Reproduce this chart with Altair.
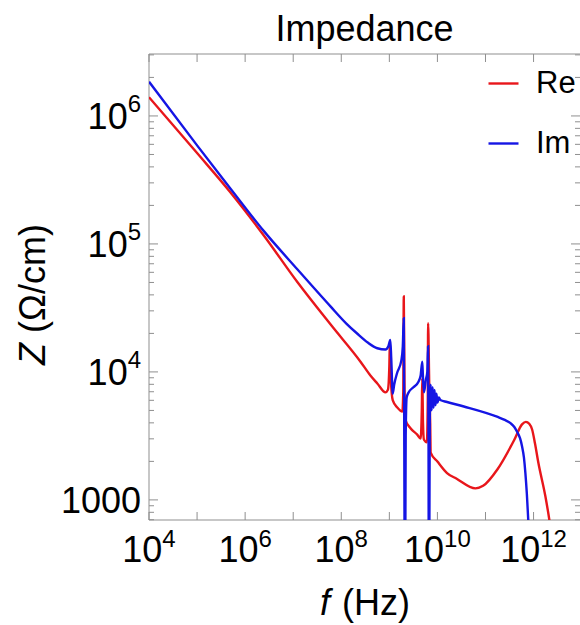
import altair as alt
import pandas as pd

# ---- data (log10 of frequency in Hz, log10 of |Z| in Ohm/cm)
re_logf = [4.00, 5.00, 5.70, 6.40, 7.09, 7.80, 8.40, 8.61, 8.75, 8.92, 8.97, 9.00, 9.01, 9.03,
           9.07, 9.17, 9.27, 9.29, 9.30, 9.315, 9.33, 9.44, 9.58, 9.65, 9.675, 9.685, 9.70,
           9.72, 9.78, 9.80, 9.806, 9.83, 9.85, 9.86, 10.00, 10.20, 10.40, 10.79, 10.95,
           11.25, 11.60, 11.76, 11.84, 11.91, 11.97, 12.03, 12.10, 12.245, 12.33, 12.40]
re_logz = [6.146, 5.71, 5.40, 5.06, 4.70, 4.36, 4.08, 3.97, 3.91, 3.84, 3.86, 4.05, 4.22, 3.95,
           3.78, 3.72, 3.69, 3.85, 4.59, 3.90, 3.63, 3.56, 3.51, 3.48, 3.70, 3.95, 3.60,
           3.47, 3.45, 3.80, 4.38, 3.90, 3.60, 3.37, 3.30, 3.21, 3.165, 3.09, 3.11,
           3.24, 3.47, 3.59, 3.61, 3.595, 3.55, 3.44, 3.29, 3.03, 2.84, 2.65]

im_logf = [4.00, 5.00, 5.70, 6.39, 7.09, 7.78, 8.10, 8.33, 8.55, 8.75, 8.92, 8.98, 9.02, 9.04,
           9.07, 9.10, 9.16, 9.25, 9.28, 9.30, 9.31, 9.32, 9.33, 9.34, 9.36, 9.40, 9.50, 9.60,
           9.65, 9.685, 9.70, 9.72, 9.76, 9.79, 9.805, 9.815, 9.82, 9.83, 9.84, 9.86, 9.88,
           9.90, 9.92, 9.94, 9.96, 9.98, 10.00, 10.03, 10.06, 10.20, 10.55, 11.24, 11.40,
           11.52, 11.60, 11.66, 11.72, 11.76, 11.80, 11.83, 11.86, 11.89, 11.93]
im_logz = [6.268, 5.77, 5.43, 5.10, 4.80, 4.51, 4.38, 4.30, 4.23, 4.185, 4.175, 4.20, 4.25, 4.10,
           3.83, 3.90, 3.99, 4.09, 4.20, 4.42, 3.50, 2.50, 2.50, 3.50, 3.80, 3.84, 3.88, 3.92,
           3.97, 4.08, 3.95, 3.84, 3.94, 4.00, 4.20, 3.50, 2.50, 2.50, 3.60, 3.90, 3.70,
           3.88, 3.72, 3.86, 3.74, 3.83, 3.76, 3.80, 3.78, 3.765, 3.73, 3.65, 3.625,
           3.60, 3.57, 3.53, 3.48, 3.42, 3.33, 3.21, 3.05, 2.84, 2.60]

series = ["Re", "Im"]
colors = ["#e8161b", "#1515e4"]

x_label_exp = ["4", "6", "8", "10", "12"]
x_tick_decades = [4, 5, 6, 7, 8, 9, 10, 11, 12]
y_label_values = [1e3, 1e4, 1e5, 1e6]
y_label_base = ["1000", "10", "10", "10"]
y_label_exp = ["", "4", "5", "6"]

title_text = "Impedance"
x_title_italic, x_title_rest = "f", "(Hz)"
y_title_italic, y_title_rest = "Z", "(Ω/cm)"

# ---- layout
FONT = "Liberation Sans"
W, H = 431, 466
PX_PER_DEC_X = 48.07
XMIN, XMAX = 1e4, 10 ** (4 + W / PX_PER_DEC_X)
YMIN, YMAX = 10 ** 2.843, 10 ** 6.484
GRAY = "#8f8f8f"

xs = alt.Scale(type="log", domain=[XMIN, XMAX], nice=False)
ys = alt.Scale(type="log", domain=[YMIN, YMAX], nice=False)

df_re = pd.DataFrame({"f": [10 ** v for v in re_logf], "z": [10 ** v for v in re_logz], "s": "Re"})
df_im = pd.DataFrame({"f": [10 ** v for v in im_logf], "z": [10 ** v for v in im_logz], "s": "Im"})
one = pd.DataFrame({"k": [0]})

df_xt = pd.DataFrame({"f": [10.0 ** d for d in x_tick_decades]})
y_major = [10.0 ** d for d in range(3, 7)]
y_minor = [m * 10.0 ** d for d in range(2, 7) for m in range(2, 10) if YMIN <= m * 10.0 ** d <= YMAX]
df_ymaj = pd.DataFrame({"v": y_major})
df_ymin = pd.DataFrame({"v": y_minor})

X = lambda: alt.X("f:Q", scale=xs, axis=None)
Yv = lambda: alt.Y("v:Q", scale=ys, axis=None)

color_enc = alt.Color(
    "s:N",
    scale=alt.Scale(domain=series, range=colors),
    legend=alt.Legend(
        title=None, orient="none", legendX=338, legendY=13, symbolType="stroke",
        symbolSize=900, symbolStrokeWidth=2.4, labelFontSize=31, labelFont=FONT,
        labelColor="black", rowPadding=28, labelOffset=16, padding=0,
    ),
)

layers = []

# frame (left, top, bottom)
layers.append(alt.Chart(one).mark_rule(color=GRAY, strokeWidth=1).encode(
    x=alt.value(0), y=alt.value(0), y2=alt.value(H)))
layers.append(alt.Chart(one).mark_rule(color=GRAY, strokeWidth=1).encode(
    x=alt.value(0), x2=alt.value(W), y=alt.value(0)))
layers.append(alt.Chart(one).mark_rule(color=GRAY, strokeWidth=1).encode(
    x=alt.value(0), x2=alt.value(W), y=alt.value(H)))

# x ticks (inward), bottom and top
layers.append(alt.Chart(df_xt).mark_rule(color=GRAY).encode(x=X(), y=alt.value(H), y2=alt.value(H - 8)))
layers.append(alt.Chart(df_xt).mark_rule(color=GRAY).encode(x=X(), y=alt.value(0), y2=alt.value(8)))
# y ticks, left and right
layers.append(alt.Chart(df_ymaj).mark_rule(color=GRAY).encode(y=Yv(), x=alt.value(0), x2=alt.value(9)))
layers.append(alt.Chart(df_ymin).mark_rule(color=GRAY).encode(y=Yv(), x=alt.value(0), x2=alt.value(5)))
layers.append(alt.Chart(df_ymaj).mark_rule(color=GRAY).encode(y=Yv(), x=alt.value(W), x2=alt.value(W - 9)))
layers.append(alt.Chart(df_ymin).mark_rule(color=GRAY).encode(y=Yv(), x=alt.value(W), x2=alt.value(W - 5)))

# curves (blue drawn on top)
layers.append(alt.Chart(df_re).mark_line(strokeWidth=2.4, clip=True, interpolate="monotone").encode(
    x=X(), y=alt.Y("z:Q", scale=ys, axis=None), color=color_enc))
layers.append(alt.Chart(df_im).mark_line(strokeWidth=2.4, clip=True, interpolate="monotone").encode(
    x=X(), y=alt.Y("z:Q", scale=ys, axis=None), color=color_enc))

# x tick labels 10^n
BASE_FS, EXP_FS = 36, 24
BASE_W = 2 * 0.556 * BASE_FS
for ndig in (1, 2):
    exps = [e for e in x_label_exp if len(e) == ndig]
    d = pd.DataFrame({"f": [10.0 ** int(e) for e in exps], "b": ["10"] * len(exps), "e": exps})
    dx = (BASE_W - ndig * 0.556 * EXP_FS) / 2
    layers.append(alt.Chart(d).mark_text(align="right", baseline="alphabetic", fontSize=BASE_FS,
                                         font=FONT, color="black", dx=dx).encode(
        x=X(), y=alt.value(H + 42), text="b:N"))
    layers.append(alt.Chart(d).mark_text(align="left", baseline="alphabetic", fontSize=EXP_FS,
                                         font=FONT, color="black", dx=dx).encode(
        x=X(), y=alt.value(H + 27), text="e:N"))

# y tick labels
d_plain = pd.DataFrame({"v": [v for v, e in zip(y_label_values, y_label_exp) if e == ""],
                        "b": [b for b, e in zip(y_label_base, y_label_exp) if e == ""]})
d_pow = pd.DataFrame({"v": [v for v, e in zip(y_label_values, y_label_exp) if e != ""],
                      "b": [b for b, e in zip(y_label_base, y_label_exp) if e != ""],
                      "e": [e for e in y_label_exp if e != ""]})
layers.append(alt.Chart(d_plain).mark_text(align="right", baseline="alphabetic", fontSize=BASE_FS,
                                           font=FONT, color="black", dy=13).encode(
    x=alt.value(-8), y=Yv(), text="b:N"))
layers.append(alt.Chart(d_pow).mark_text(align="right", baseline="alphabetic", fontSize=BASE_FS,
                                         font=FONT, color="black", dy=13).encode(
    x=alt.value(-8 - 0.556 * EXP_FS), y=Yv(), text="b:N"))
layers.append(alt.Chart(d_pow).mark_text(align="right", baseline="alphabetic", fontSize=EXP_FS,
                                         font=FONT, color="black", dy=-4).encode(
    x=alt.value(-8), y=Yv(), text="e:N"))

# title and axis titles
layers.append(alt.Chart(one).mark_text(align="center", baseline="alphabetic", fontSize=36,
                                       font=FONT, color="black").encode(
    x=alt.value(W / 2), y=alt.value(-13), text=alt.value(title_text)))
layers.append(alt.Chart(one).mark_text(align="left", baseline="alphabetic", fontSize=36,
                                       font=FONT, fontStyle="italic", color="black").encode(
    x=alt.value(171), y=alt.value(H + 95), text=alt.value(x_title_italic)))
layers.append(alt.Chart(one).mark_text(align="left", baseline="alphabetic", fontSize=36,
                                       font=FONT, color="black").encode(
    x=alt.value(193), y=alt.value(H + 95), text=alt.value(x_title_rest)))
layers.append(alt.Chart(one).mark_text(align="left", baseline="alphabetic", fontSize=36, angle=270,
                                       font=FONT, fontStyle="italic", color="black").encode(
    x=alt.value(-104), y=alt.value(311), text=alt.value(y_title_italic)))
layers.append(alt.Chart(one).mark_text(align="left", baseline="alphabetic", fontSize=36, angle=270,
                                       font=FONT, color="black").encode(
    x=alt.value(-104), y=alt.value(279), text=alt.value(y_title_rest)))

chart = alt.layer(*layers).properties(
    width=W, height=H,
    padding={"left": 149, "top": 54, "right": 0, "bottom": 105},
    autosize=alt.AutoSizeParams(type="none"),
    background="white",
).configure_view(stroke=None)

chart.save("out.html", embed_options={"renderer": "svg", "actions": False})
